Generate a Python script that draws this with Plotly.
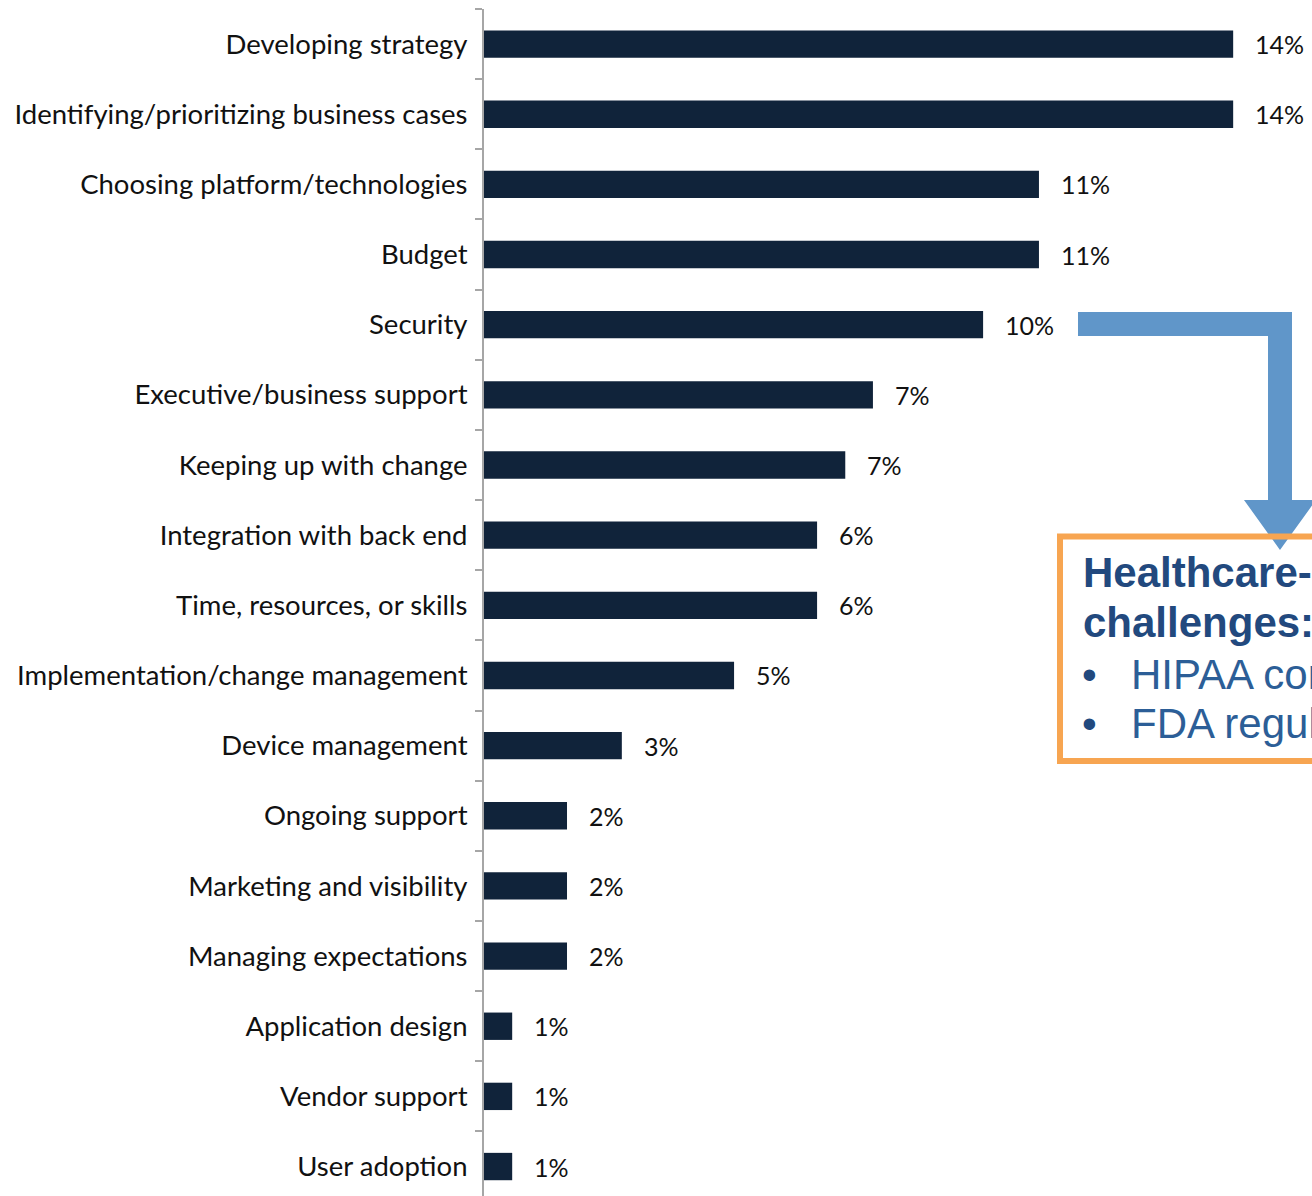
import plotly.graph_objects as go

categories = [
    "Developing strategy",
    "Identifying/prioritizing business cases",
    "Choosing platform/technologies",
    "Budget",
    "Security",
    "Executive/business support",
    "Keeping up with change",
    "Integration with back end",
    "Time, resources, or skills",
    "Implementation/change management",
    "Device management",
    "Ongoing support",
    "Marketing and visibility",
    "Managing expectations",
    "Application design",
    "Vendor support",
    "User adoption",
]
values = [14.35, 14.35, 10.63, 10.63, 9.56, 7.45, 6.92, 6.38, 6.38, 4.79,
          2.64, 1.59, 1.59, 1.59, 0.54, 0.54, 0.54]
labels = ["14%", "14%", "11%", "11%", "10%", "7%", "7%", "6%", "6%", "5%",
          "3%", "2%", "2%", "2%", "1%", "1%", "1%"]

callout_title = ["Healthcare-specific", "challenges:"]
callout_bullets = ["HIPAA compliance", "FDA regulation"]

W, H = 1312, 1196
L, R, T, B = 484, 0, 9, 0

def px_x(px):
    return (px - L) / (W - L - R)

def px_y(py):
    return (H - B - py) / (H - T - B)

BAR = "#10233A"
FONT = "Lato"

fig = go.Figure()
fig.add_trace(go.Bar(
    x=values, y=categories, orientation="h",
    marker=dict(color=BAR, line=dict(width=0)),
    width=0.39, hoverinfo="skip",
))

for v, c, t in zip(values, categories, labels):
    fig.add_annotation(x=v, y=c, text=t, showarrow=False, xanchor="left",
                       xshift=20, font=dict(family=FONT, size=25, color="#111111"))

# arrow
pts = [(1078, 312), (1292, 312), (1292, 500), (1316, 500), (1280, 550),
       (1244, 500), (1268, 500), (1268, 336), (1078, 336)]
path = "M " + " L ".join(f"{px_x(x):.5f},{px_y(y):.5f}" for x, y in pts) + " Z"
fig.add_shape(type="path", xref="paper", yref="paper", path=path,
              fillcolor="#6096C9", line=dict(width=0), layer="above")

# callout box
fig.add_shape(type="rect", xref="paper", yref="paper",
              x0=px_x(1060), x1=px_x(1340), y0=px_y(761), y1=px_y(536.5),
              line=dict(color="#F7A551", width=6), fillcolor="rgba(0,0,0,0)")

title_y = [572, 622]
for txt, y in zip(callout_title, title_y):
    fig.add_annotation(xref="paper", yref="paper", x=px_x(1081), y=px_y(y),
                       text=f"<b>{txt}</b>", showarrow=False, xanchor="left",
                       yanchor="middle",
                       font=dict(family="Liberation Sans", size=42, color="#22497E"))
bullet_y = [674, 723]
for txt, y in zip(callout_bullets, bullet_y):
    fig.add_annotation(xref="paper", yref="paper", x=px_x(1080), y=px_y(y),
                       text="•", showarrow=False, xanchor="left", yanchor="middle",
                       font=dict(family="Liberation Sans", size=42, color="#22497E"))
    fig.add_annotation(xref="paper", yref="paper", x=px_x(1129), y=px_y(y),
                       text=txt, showarrow=False, xanchor="left", yanchor="middle",
                       font=dict(family="Liberation Sans", size=42, color="#2C5E97"))

fig.update_layout(
    width=W, height=H,
    margin=dict(l=L, r=R, t=T, b=B, autoexpand=False),
    paper_bgcolor="white", plot_bgcolor="white",
    showlegend=False,
    xaxis=dict(range=[0, 15.86], visible=False, fixedrange=True),
    yaxis=dict(
        type="category", range=[16.42, -0.5], automargin=False,
        showline=True, linecolor="#A6A6A6", linewidth=2,
        ticks="outside", tickson="boundaries", ticklen=7, tickwidth=2,
        tickcolor="#A6A6A6", showgrid=False, zeroline=False,
        tickfont=dict(family=FONT, size=27.5, color="#111111"),
        ticklabelstandoff=9, fixedrange=True,
    ),
)

fig.write_html("out.html", config={"displayModeBar": False},
               post_script="document.body.style.margin='0';")
